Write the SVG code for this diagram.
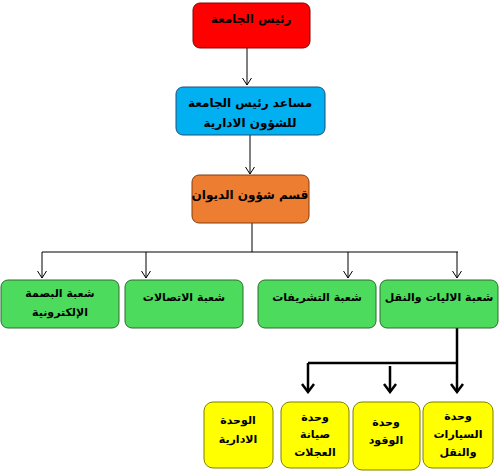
<svg xmlns="http://www.w3.org/2000/svg" width="500" height="474" viewBox="0 0 500 474">
<style>
.t{font-family:"DejaVu Sans",sans-serif;font-weight:bold;font-size:12px;fill:#000;text-anchor:middle;direction:rtl}
.g{font-size:11px}
.s{font-size:11px}
.c{fill:none;stroke:#000;stroke-width:1}
.b{fill:none;stroke:#000;stroke-width:2.5}
</style>
<defs>
<marker id="a" markerWidth="10" markerHeight="10" refX="9" refY="5" orient="auto" markerUnits="userSpaceOnUse" viewBox="0 0 10 10">
<path d="M2,0.5 L9,5 L2,9.5" fill="none" stroke="#000" stroke-width="1"/>
</marker>
<marker id="ab" markerWidth="14" markerHeight="14" refX="12" refY="7" orient="auto" markerUnits="userSpaceOnUse" viewBox="0 0 14 14">
<path d="M4,1 L12,7 L4,13" fill="none" stroke="#000" stroke-width="2.5"/>
</marker>
</defs>
<g id="connectors">
<path class="c" d="M247,48 V85" marker-end="url(#a)"/>
<path class="c" d="M250,135 V174" marker-end="url(#a)"/>
<path class="c" d="M252,223 V252"/>
<path class="c" d="M42,252 H458"/>
<path class="c" d="M42,252 V278" marker-end="url(#a)"/>
<path class="c" d="M146,252 V278" marker-end="url(#a)"/>
<path class="c" d="M348,252 V278" marker-end="url(#a)"/>
<path class="c" d="M457,252 V278" marker-end="url(#a)"/>
<path class="b" d="M457,328 V392" marker-end="url(#ab)"/>
<path class="b" d="M308,363 H457"/>
<path class="b" d="M308,363 V392" marker-end="url(#ab)"/>
<path class="b" d="M390,366 V392" marker-end="url(#ab)"/>
</g>
<g id="n1"><rect x="193" y="3" width="117" height="45" rx="7" fill="#FF0000" stroke="#8B0000"/>
<text class="t" x="251" y="23">رئيس الجامعة</text></g>
<g id="n2"><rect x="176" y="87" width="149" height="48" rx="7" fill="#00B0F0" stroke="#1F4E79"/>
<text class="t" x="250" y="107">مساعد رئيس الجامعة</text>
<text class="t" x="250" y="127">للشؤون الادارية</text></g>
<g id="n3"><rect x="192" y="175" width="117" height="48" rx="7" fill="#ED7D31" stroke="#843C0C"/>
<text class="t" x="250" y="199">قسم شؤون الديوان</text></g>
<g id="n4"><rect x="1" y="280" width="118" height="48" rx="7" fill="#4CDB5C" stroke="#2E6B30"/>
<text class="t g" x="60" y="297">شعبة البصمة</text>
<text class="t g" x="60" y="316">الإلكترونية</text></g>
<g id="n5"><rect x="125" y="280" width="118" height="48" rx="7" fill="#4CDB5C" stroke="#2E6B30"/>
<text class="t g" x="184" y="301">شعبة الاتصالات</text></g>
<g id="n6"><rect x="258" y="280" width="118" height="48" rx="7" fill="#4CDB5C" stroke="#2E6B30"/>
<text class="t g" x="317" y="301">شعبة التشريفات</text></g>
<g id="n7"><rect x="380" y="280" width="118" height="48" rx="7" fill="#4CDB5C" stroke="#2E6B30"/>
<text class="t g" x="439" y="301">شعبة الاليات والنقل</text></g>
<g id="n8"><rect x="423" y="402" width="70" height="66" rx="9" fill="#FFFF00" stroke="#7F7F00"/>
<text class="t s" x="458" y="420">وحدة</text>
<text class="t s" x="458" y="438">السيارات</text>
<text class="t s" x="458" y="456">والنقل</text></g>
<g id="n9"><rect x="353" y="402" width="67" height="68" rx="9" fill="#FFFF00" stroke="#7F7F00"/>
<text class="t s" x="386" y="426">وحدة</text>
<text class="t s" x="386" y="444">الوقود</text></g>
<g id="n10"><rect x="281" y="402" width="68" height="66" rx="9" fill="#FFFF00" stroke="#7F7F00"/>
<text class="t s" x="315" y="421">وحدة</text>
<text class="t s" x="315" y="438">صيانة</text>
<text class="t s" x="315" y="456">العجلات</text></g>
<g id="n11"><rect x="204" y="402" width="69" height="66" rx="9" fill="#FFFF00" stroke="#7F7F00"/>
<text class="t s" x="238" y="424">الوحدة</text>
<text class="t s" x="238" y="443">الادارية</text></g>
</svg>
